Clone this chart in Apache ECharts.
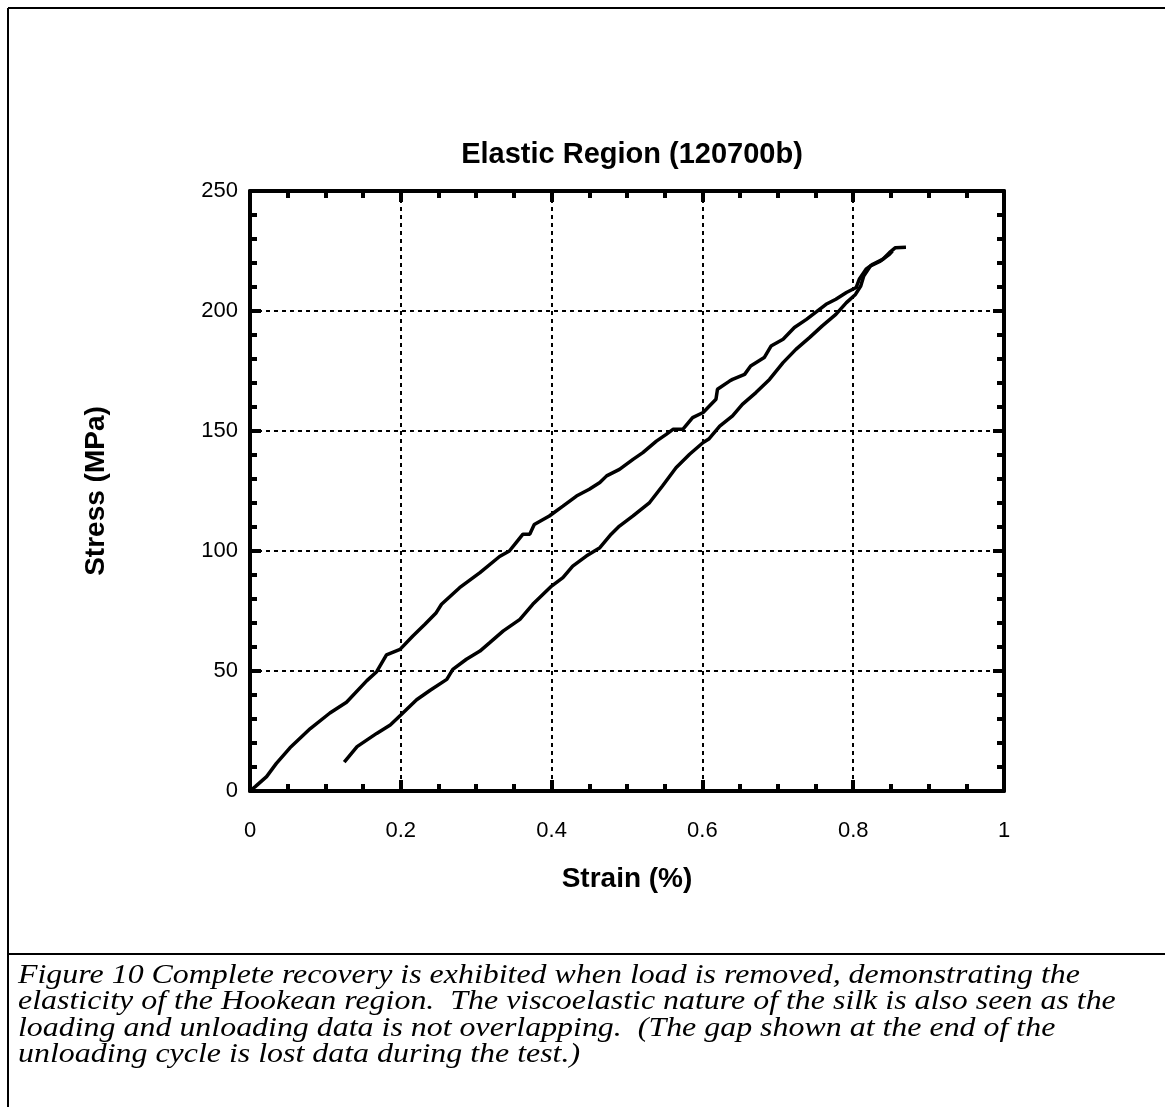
<!DOCTYPE html>
<html>
<head>
<meta charset="utf-8">
<script src="https://cdn.jsdelivr.net/npm/echarts@6/dist/echarts.min.js"></script>
<style>
html,body{margin:0;padding:0;background:#fff;}
#chart{width:1165px;height:1107px;}
</style>
</head>
<body>
<div id="chart"></div>
<script>
var titleText = 'Elastic Region (120700b)';
var xName = 'Strain (%)';
var yName = 'Stress (MPa)';
var xTicks = [0, 0.2, 0.4, 0.6, 0.8, 1];
var yTicks = [0, 50, 100, 150, 200, 250];
var captionLines = [
  'Figure 10 Complete recovery is exhibited when load is removed, demonstrating the',
  'elasticity of the Hookean region.  The viscoelastic nature of the silk is also seen as the',
  'loading and unloading data is not overlapping.  (The gap shown at the end of the',
  'unloading cycle is lost data during the test.)'
];

// upper branch (starts at origin)
var upperStrain = [0,0.007,0.022,0.035,0.053,0.08,0.106,0.128,0.155,0.168,0.181,0.199,0.216,0.232,0.247,0.254,0.278,0.305,0.331,0.344,0.353,0.362,0.371,0.377,0.397,0.415,0.433,0.45,0.464,0.473,0.49,0.508,0.521,0.539,0.552,0.561,0.574,0.587,0.601,0.618,0.62,0.636,0.64,0.656,0.664,0.682,0.691,0.707,0.722,0.738,0.751,0.764,0.777,0.791,0.804,0.808,0.817,0.826,0.839,0.848,0.856,0.87];
var upperStress = [0,1.8,6,11.5,18,26,32.5,37,46,49.7,56.7,59,64.6,69.5,74.3,77.8,84.7,91,97.7,100,103.5,107,107,111,114.6,118.7,122.9,125.7,128.5,131.3,134,138.2,141,145.8,148.6,150.7,150.7,155.6,157.7,163.2,167.4,170.8,171.5,173.6,177.1,180.6,185.4,188.2,193.1,196.5,199.6,202.8,204.9,207.7,209.8,213.2,217.4,219.5,221.5,224.3,226.4,226.6];

// lower branch (ends with a gap at ~0.125)
var lowerStrain = [0.852,0.848,0.836,0.823,0.814,0.81,0.803,0.791,0.777,0.759,0.742,0.724,0.707,0.689,0.671,0.653,0.64,0.623,0.609,0.601,0.583,0.565,0.547,0.53,0.508,0.49,0.479,0.464,0.446,0.428,0.415,0.4,0.375,0.358,0.336,0.318,0.305,0.287,0.269,0.261,0.239,0.221,0.2,0.186,0.168,0.142,0.125];
var lowerStress = [225,223.6,220.8,218.8,214.6,210.4,206.9,203.5,198.6,193.8,188.9,184,178.5,171.5,166,161.1,156.3,152,146.8,145.2,140.3,134.7,127.1,120.2,114.6,110.4,107,101.4,97.9,93.7,88.9,85.4,77.8,71.5,66.7,61.8,58.3,54.9,50.7,46.5,42,38,31.7,27.5,24,18.5,12];

function pairs(xs, ys){ return xs.map(function(x,i){ return [x, ys[i]]; }); }

var chart = echarts.init(document.getElementById('chart'), null, {renderer:'canvas'});
var black = '#000';
var sans = 'Helvetica, Arial, "Liberation Sans", sans-serif';

function axisCommon(extra){
  var base = {
    type:'value',
    axisLine:{show:true, onZero:false, lineStyle:{color:black, width:4}},
    axisTick:{show:true, inside:true, length:11, lineStyle:{color:black, width:4}},
    splitLine:{show:false}
  };
  for (var k in extra) base[k] = extra[k];
  return base;
}

var option = {
  backgroundColor:'#fff',
  animation:false,
  title:{
    text:titleText, left:627, top:135, textAlign:'center',
    textStyle:{fontFamily:sans, fontWeight:'bold', fontSize:29, color:black}
  },
  grid:{left:250, right:161, top:191, bottom:316, containLabel:false},
  xAxis:[
    axisCommon({
      position:'bottom', min:xTicks[0], max:xTicks[xTicks.length-1], interval:0.2,
      minorTick:{show:true, splitNumber:4, length:7, lineStyle:{color:black, width:4}},
      axisLabel:{show:true, color:black, fontFamily:sans, fontSize:22, margin:29},
      splitLine:{show:true, lineStyle:{color:black, width:2, type:[4,4]}},
      name:xName, nameLocation:'middle', nameGap:74,
      nameTextStyle:{fontFamily:sans, fontWeight:'bold', fontSize:28, color:black}
    }),
    axisCommon({
      position:'top', min:xTicks[0], max:xTicks[xTicks.length-1], interval:0.2,
      minorTick:{show:true, splitNumber:4, length:7, lineStyle:{color:black, width:4}},
      axisLabel:{show:false}
    })
  ],
  yAxis:[
    axisCommon({
      position:'left', min:yTicks[0], max:yTicks[yTicks.length-1], interval:50,
      minorTick:{show:true, splitNumber:5, length:7, lineStyle:{color:black, width:4}},
      axisLabel:{show:true, color:black, fontFamily:sans, fontSize:22, margin:12},
      splitLine:{show:true, lineStyle:{color:black, width:2, type:[4,4]}},
      name:yName, nameLocation:'middle', nameGap:140, nameRotate:90,
      nameTextStyle:{fontFamily:sans, fontWeight:'bold', fontSize:28, color:black}
    }),
    axisCommon({
      position:'right', min:yTicks[0], max:yTicks[yTicks.length-1], interval:50,
      minorTick:{show:true, splitNumber:5, length:7, lineStyle:{color:black, width:4}},
      axisLabel:{show:false}
    })
  ],
  series:[
    {type:'line', name:'upper', data:pairs(upperStrain, upperStress), xAxisIndex:0, yAxisIndex:0,
     showSymbol:false, symbol:'none', lineStyle:{color:black, width:3.5}, z:5},
    {type:'line', name:'lower', data:pairs(lowerStrain, lowerStress), xAxisIndex:0, yAxisIndex:0,
     showSymbol:false, symbol:'none', lineStyle:{color:black, width:3.5}, z:5}
  ],
  graphic:[
    {type:'line', shape:{x1:8, y1:8, x2:1165, y2:8}, style:{stroke:black, lineWidth:2}},
    {type:'line', shape:{x1:8, y1:8, x2:8, y2:1107}, style:{stroke:black, lineWidth:2}},
    {type:'line', shape:{x1:8, y1:954, x2:1165, y2:954}, style:{stroke:black, lineWidth:2}},
    {type:'text', x:18, y:962, scaleX:1.14, scaleY:1,
     style:{text:captionLines.join('\n'), fill:black,
            font:'italic 28px "Liberation Serif", "Times New Roman", serif', lineHeight:26.5}}
  ]
};
chart.setOption(option);
</script>
</body>
</html>
